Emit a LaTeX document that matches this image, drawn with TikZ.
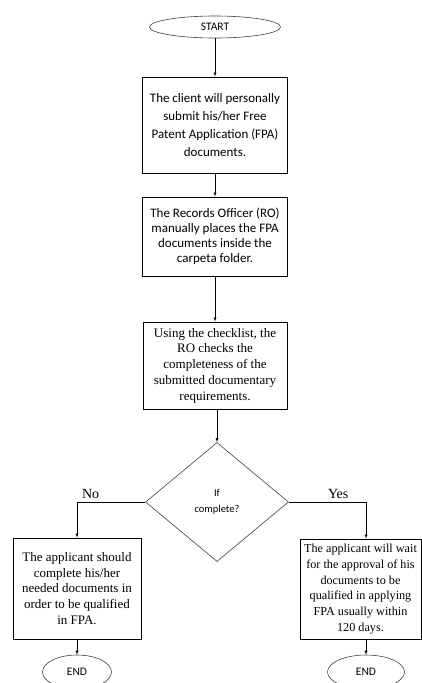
\documentclass[tikz,border=0pt]{standalone}
\usepackage{fontspec}
\setmainfont{Liberation Serif}
\newfontfamily\calibri{Carlito}
\usetikzlibrary{shapes.geometric}

\begin{document}
\begin{tikzpicture}[x=1pt,y=-1pt,>=latex,
  terminal/.style={ellipse,draw=black!75,line width=0.6pt,inner sep=0pt,font=\calibri\fontsize{11.5}{13}\selectfont},
  process/.style={rectangle,draw=black,line width=0.9pt,align=center,inner sep=2pt},
  sanstext/.style={font=\calibri\fontsize{13}{18}\selectfont},
  serftext/.style={font=\fontsize{13}{15.7}\selectfont},
  decision/.style={diamond,draw=black!75,line width=0.6pt,inner sep=0pt,align=center,font=\calibri\fontsize{10.5}{16}\selectfont},
  answer/.style={font=\fontsize{14}{16}\selectfont,above}
]

\useasboundingbox (0,0) rectangle (422,683);

\node[terminal,minimum width=131pt,minimum height=22pt] (start) at (215,27) {START};

\node[process,sanstext,minimum width=145pt,minimum height=96pt] (submit) at (215,125)
  {The client will personally\\submit his/her Free\\Patent Application (FPA)\\documents.};

\node[process,sanstext,font=\calibri\fontsize{13}{15}\selectfont,minimum width=145pt,minimum height=79pt] (place) at (215,236.5)
  {The Records Officer (RO)\\manually places the FPA\\documents inside the\\carpeta folder.};

\node[process,serftext,minimum width=144pt,minimum height=87pt] (verify) at (215,365.5)
  {Using the checklist, the\\RO checks the\\completeness of the\\submitted documentary\\requirements.};

\node[decision,minimum width=143pt,minimum height=119pt] (check) at (217,502) {If\\complete?};

\node[process,serftext,minimum width=128pt,minimum height=101pt] (incomplete) at (77,588.5)
  {The applicant should\\complete his/her\\needed documents in\\order to be qualified\\in FPA.};

\node[process,serftext,font=\fontsize{12.2}{15.7}\selectfont,minimum width=121pt,minimum height=100pt] (wait) at (360.5,589)
  {The applicant will wait\\for the approval of his\\documents to be\\qualified in applying\\FPA usually within\\120 days.};

\node[terminal,minimum width=69pt,minimum height=34pt] (endno) at (77,672) {END};
\node[terminal,minimum width=77pt,minimum height=34pt] (endyes) at (366,672) {END};

\draw[->] (start) -- (submit);
\draw[->] (submit) -- (place);
\draw[->] (place) -- (verify);
\draw[->] (verify.south) -- (verify.south -| check.north) -- (check.north);
\draw[->] (check.west) -| node[answer,pos=0.4] {No} (incomplete.north);
\draw[->] (check.east) -| node[answer,pos=0.32] {Yes} (wait.north -| endyes.north);
\draw[->] (incomplete.south) -- (endno);
\draw[->] (wait.south -| endyes.north) -- (endyes.north);

\end{tikzpicture}
\end{document}
